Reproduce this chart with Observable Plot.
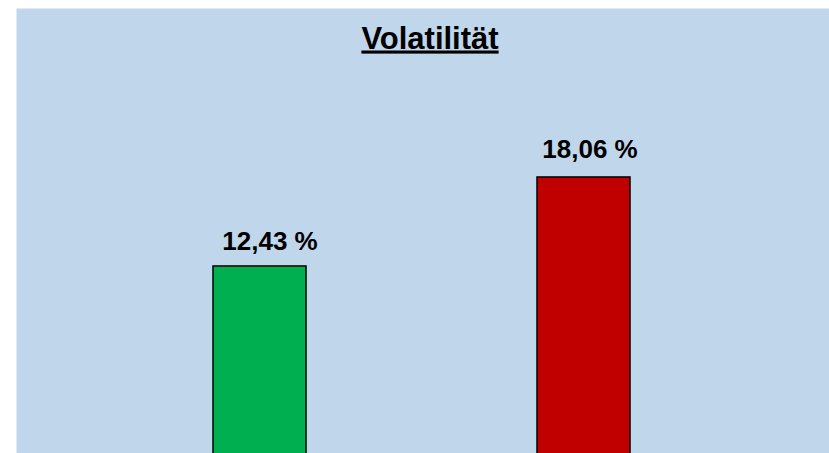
<!DOCTYPE html>
<html>
<head>
<meta charset="utf-8">
<script src="https://cdn.jsdelivr.net/npm/d3@7"></script>
<script src="https://cdn.jsdelivr.net/npm/@observablehq/plot@0.6"></script>
<style>
  html, body { margin: 0; padding: 0; background: #ffffff; overflow: hidden; }
  #chart { position: absolute; left: 0; top: 0; }
</style>
</head>
<body>
<div id="chart"></div>
<script>
const title = "Volatilität";
const categories = ["Portfolio", "Benchmark"];
const values = [12.43, 18.06];
const valueLabels = ["12,43 %", "18,06 %"];
const barColors = ["#00b050", "#c00000"];

const data = categories.map((c, i) => ({
  category: c, value: values[i], label: valueLabels[i], color: barColors[i]
}));

const labelStyle = { x: "category", y: "value", text: "label", lineAnchor: "bottom",
  fontSize: 26, fontWeight: "bold", fill: "#000000" };

const chart = Plot.plot({
  width: 829,
  height: 453,
  marginTop: 8,
  marginLeft: 16,
  marginRight: 0,
  marginBottom: 0,
  style: { background: "transparent", fontFamily: "Liberation Sans, Arial, sans-serif" },
  x: { domain: categories, range: [212.2, 630.2], paddingInner: 0.7138, paddingOuter: 0, axis: null },
  y: { domain: [0, 20], range: [462.5, 146.3], axis: null },
  marks: [
    Plot.frame({ fill: "#c0d6eb", stroke: "none" }),
    Plot.barY(data, { x: "category", y: "value", fill: "color", stroke: "#000000", strokeWidth: 1.5 }),
    Plot.text(data.slice(0, 1), { ...labelStyle, dy: -16, dx: 10 }),
    Plot.text(data.slice(1), { ...labelStyle, dy: -19.5, dx: 6 }),
    Plot.text([title], { frameAnchor: "top", lineAnchor: "bottom", dy: 40, dx: 7, text: d => d,
      fontSize: 31, fontWeight: "bold", fill: "#000000" })
  ]
});

d3.select(chart).selectAll("text").filter(function () { return this.textContent === title; })
  .style("text-decoration", "underline");

document.getElementById("chart").appendChild(chart);
</script>
</body>
</html>
